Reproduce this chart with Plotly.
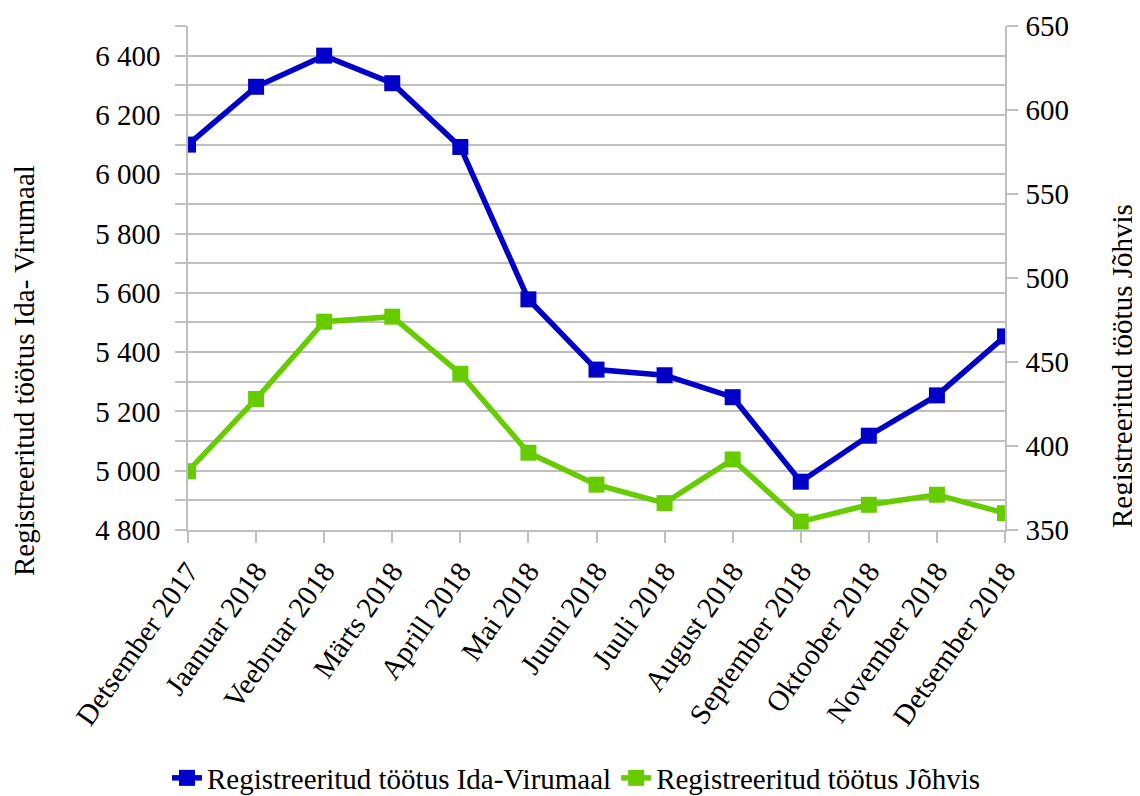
import plotly.graph_objects as go

months = ["Detsember 2017", "Jaanuar 2018", "Veebruar 2018", "Märts 2018", "Aprill 2018",
          "Mai 2018", "Juuni 2018", "Juuli 2018", "August 2018", "September 2018",
          "Oktoober 2018", "November 2018", "Detsember 2018"]
ida_virumaa = [6100, 6295, 6400, 6307, 6092, 5578, 5341, 5322, 5248, 4963, 5118, 5254, 5453]
johvi = [385, 428, 474, 477, 443, 396, 377, 366, 392, 355, 365, 371, 360]

name_ida = "Registreeritud töötus Ida-Virumaal"
name_joh = "Registreeritud töötus Jõhvis"
title_left = "Registreeritud töötus Ida- Virumaal"
title_right = "Registreeritud töötus Jõhvis"

BLUE = "#0000C8"
GREEN = "#66CC00"
GRID = "#BFBFBF"
FONT = "'Liberation Serif', 'Times New Roman', serif"
FS = 29

# page body has an 8px offset; figure coordinates = screen - 8
OFF = 8
W, H = 1140 - OFF, 796 - OFF
PL, PR, PT, PB = 188 - OFF, 1005 - OFF, 26 - OFF, 530 - OFF
pw = PR - PL
ph = PB - PT

fig = go.Figure()
fig.add_trace(go.Scatter(x=months, y=ida_virumaa, name=name_ida, mode="lines+markers",
                         line=dict(color=BLUE, width=5.5),
                         marker=dict(symbol="square", size=16, color=BLUE),
                         yaxis="y"))
fig.add_trace(go.Scatter(x=months, y=johvi, name=name_joh, mode="lines+markers",
                         line=dict(color=GREEN, width=5.5),
                         marker=dict(symbol="square", size=16, color=GREEN),
                         yaxis="y2"))

fig.update_layout(
    width=W, height=H,
    margin=dict(l=PL, r=W - PR, t=PT, b=H - PB, autoexpand=False),
    paper_bgcolor="white", plot_bgcolor="white",
    separators=". ",
    font=dict(family=FONT, size=FS, color="black"),
    showlegend=True,
    legend=dict(orientation="h", xref="container", yref="container",
                x=(576 - OFF) / W, xanchor="center",
                y=(H - (778 - OFF)) / H, yanchor="middle",
                font=dict(size=FS, family=FONT), tracegroupgap=0),
    xaxis=dict(type="category", range=[0, 12], showgrid=False, showline=True, automargin=False,
               linecolor=GRID, linewidth=1.5, ticks="outside", ticklen=11, tickcolor=GRID,
               tickwidth=1.5, tickangle=-55, tickfont=dict(size=FS, family=FONT), zeroline=False),
    yaxis=dict(range=[4800, 6500], tick0=4800, dtick=200, showgrid=True, gridcolor=GRID,
               gridwidth=1.5, showline=True, linecolor=GRID, linewidth=1.5, automargin=False,
               ticks="outside", ticklen=11, tickcolor=GRID, tickwidth=1.5, ticklabelstandoff=9,
               tickformat=",d", tickfont=dict(size=FS, family=FONT), zeroline=False,
               minor=dict(dtick=100, tick0=4800, showgrid=True, gridcolor=GRID, gridwidth=1.5,
                          ticks="outside", ticklen=11, tickcolor=GRID, tickwidth=1.5)),
    yaxis2=dict(range=[350, 650], dtick=50, tick0=350, overlaying="y", side="right",
                showgrid=False, showline=True, linecolor=GRID, linewidth=1.5, automargin=False,
                ticks="outside", ticklen=11, tickcolor=GRID, tickwidth=1.5, ticklabelstandoff=2,
                tickfont=dict(size=FS, family=FONT), zeroline=False),
)

fig.add_annotation(text=title_left, textangle=-90, xref="paper", yref="paper",
                   x=(24 - OFF - PL) / pw, y=(PB - (371 - OFF)) / ph,
                   xanchor="center", yanchor="middle",
                   showarrow=False, font=dict(size=FS, family=FONT))
fig.add_annotation(text=title_right, textangle=-90, xref="paper", yref="paper",
                   x=(1122 - OFF - PL) / pw, y=(PB - (366 - OFF)) / ph,
                   xanchor="center", yanchor="middle",
                   showarrow=False, font=dict(size=FS, family=FONT))

fig.write_html("out.html")
